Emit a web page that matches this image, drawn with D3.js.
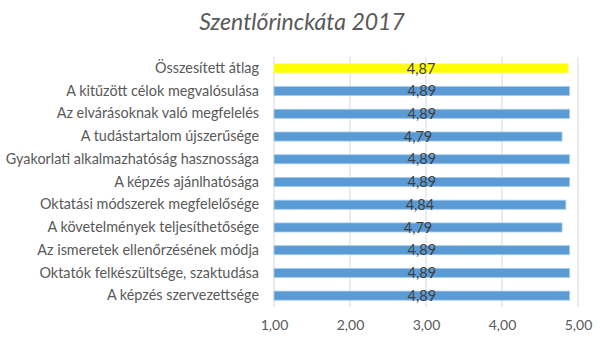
<!DOCTYPE html>
<html><head><meta charset="utf-8">
<script src="https://cdn.jsdelivr.net/npm/d3@7"></script>
<style>body{margin:0;background:#fff;}svg{display:block;}</style>
</head><body>
<svg id="c" width="600" height="339"></svg>
<script>
const categories = [
  "Összesített átlag",
  "A kitűzött célok megvalósulása",
  "Az elvárásoknak való megfelelés",
  "A tudástartalom újszerűsége",
  "Gyakorlati alkalmazhatóság hasznossága",
  "A képzés ajánlhatósága",
  "Oktatási módszerek megfelelősége",
  "A követelmények teljesíthetősége",
  "Az ismeretek ellenőrzésének módja",
  "Oktatók felkészültsége, szaktudása",
  "A képzés szervezettsége"
];
const values = [4.87, 4.89, 4.89, 4.79, 4.89, 4.89, 4.84, 4.79, 4.89, 4.89, 4.89];
const ticks = [1, 2, 3, 4, 5];
const title = "Szentlőrinckáta 2017";

(function () {
const svg = d3.select("#c");
const font = "Lato, 'Open Sans', sans-serif";
const pl = 274, pr = 578, pt = 57, pb = 307;
const x = d3.scaleLinear().domain([1, 5]).range([pl, pr]);
const y = d3.scaleBand().domain(categories).range([pt, pb]).paddingInner(0.6).paddingOuter(0.3);
const fmt = v => d3.format(".2f")(v).replace(".", ",");

svg.append("text").attr("x", 302).attr("y", 30).attr("text-anchor", "middle")
  .attr("font-family", font).attr("font-style", "italic").attr("font-size", 23)
  .attr("fill", "#595959").text(title);

// grid
svg.append("g").selectAll("line").data(ticks).join("line")
  .attr("x1", d => x(d)).attr("x2", d => x(d)).attr("y1", pt).attr("y2", pb)
  .attr("stroke", "#d9d9d9").attr("stroke-width", 1);

// x axis labels
const xa = svg.append("g").attr("transform", `translate(0,${pb})`)
  .call(d3.axisBottom(x).tickValues(ticks).tickSize(0).tickPadding(13).tickFormat(fmt));
xa.select(".domain").remove();
xa.selectAll("text").attr("font-family", font).attr("font-size", 14).attr("fill", "#595959");

// bars
svg.append("g").selectAll("rect").data(categories).join("rect")
  .attr("x", x(1)).attr("y", d => y(d)).attr("height", y.bandwidth())
  .attr("width", (d, i) => x(values[i]) - x(1))
  .attr("fill", (d, i) => i === 0 ? "#ffff00" : "#5b9bd5")
  .attr("stroke", (d, i) => i === 0 ? "#ffff66" : "#a9cdee").attr("stroke-width", 0.8);

// value labels
svg.append("g").selectAll("text").data(categories).join("text")
  .attr("x", (d, i) => (x(1) + x(values[i])) / 2)
  .attr("y", d => y(d) + y.bandwidth() / 2)
  .attr("dy", "0.36em").attr("text-anchor", "middle")
  .attr("font-family", font).attr("font-size", 14.5).attr("fill", "#404040")
  .text((d, i) => fmt(values[i]));

// y axis labels
const ya = svg.append("g").attr("transform", `translate(${pl},0)`)
  .call(d3.axisLeft(y).tickSize(0).tickPadding(15));
ya.select(".domain").remove();
ya.selectAll("text").attr("font-family", font).attr("font-size", 14.4).attr("fill", "#595959");
})();
</script>
</body></html>
